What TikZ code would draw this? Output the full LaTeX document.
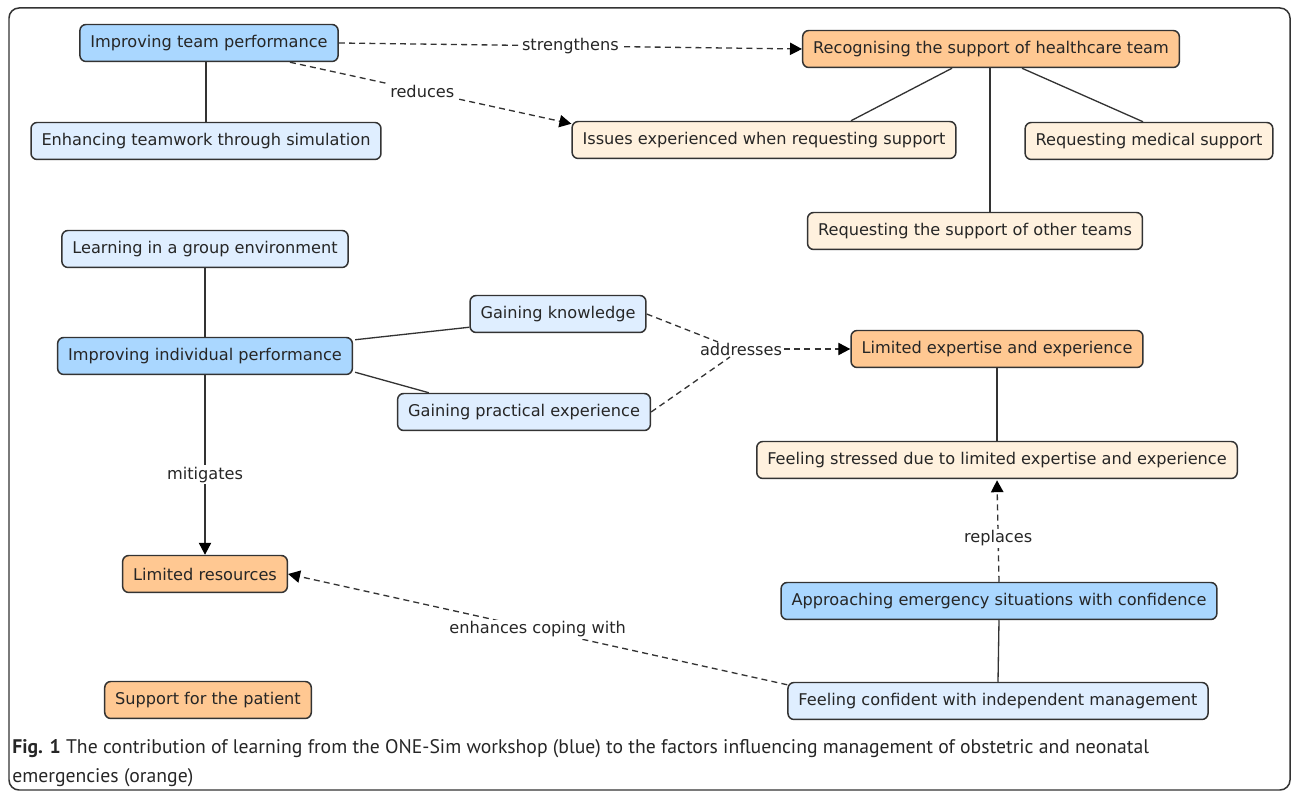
\documentclass[tikz,border=0pt]{standalone}
\usepackage{fontspec}
\setmainfont{DejaVu Sans}
\newfontfamily\capfont{PT Sans}
\usetikzlibrary{arrows.meta,calc}
\definecolor{dblue}{HTML}{AAD7FF}
\definecolor{lblue}{HTML}{DFEEFF}
\definecolor{dorange}{HTML}{FFC892}
\definecolor{lorange}{HTML}{FFF1DE}
\definecolor{edgec}{HTML}{333333}
\begin{document}
\begin{tikzpicture}[x=0.02cm,y=-0.02cm,
  box/.style={draw=edgec, line width=0.85pt, rounded corners=3.5pt,
    font=\fontsize{9.2}{11}\selectfont, text=black!85, inner xsep=0.21cm,
    minimum height=0.74cm},
  bluebox/.style={box, fill=dblue},
  lbluebox/.style={box, fill=lblue},
  orbox/.style={box, fill=dorange},
  lorbox/.style={box, fill=lorange},
  link/.style={draw=edgec, line width=0.75pt},
  dlink/.style={link, dash pattern=on 3.4pt off 2.4pt},
  tip/.style={-{Triangle[length=6.8pt,width=7pt,color=black]}},
  lab/.style={fill=white, inner sep=1pt, font=\fontsize{9.2}{11}\selectfont, text=black!85}
]
\useasboundingbox (0,0) rectangle (1292,793);
\draw[edgec, line width=0.85pt, rounded corners=0.2cm] (9,8) rectangle (1290,790);

\node[bluebox]  (tp)  at (209,43)  {Improving team performance};
\node[lbluebox] (et)  at (206,141) {Enhancing teamwork through simulation};
\node[orbox]    (rec) at (991,49)  {Recognising the support of healthcare team};
\node[lorbox]   (iss) at (764,140) {Issues experienced when requesting support};
\node[lorbox]   (med) at (1149,141) {Requesting medical support};
\node[lorbox]   (oth) at (975,231) {Requesting the support of other teams};
\node[lbluebox] (lg)  at (205,249) {Learning in a group environment};
\node[bluebox]  (ind) at (205,356) {Improving individual performance};
\node[lbluebox] (gk)  at (558,314) {Gaining knowledge};
\node[lbluebox] (gp)  at (524,412) {Gaining practical experience};
\node[orbox]    (le)  at (997,349) {Limited expertise and experience};
\node[lorbox]   (fs)  at (997,460) {Feeling stressed due to limited expertise and experience};
\node[bluebox]  (ap)  at (999,601) {Approaching emergency situations with confidence};
\node[lbluebox] (fc)  at (998,701) {Feeling confident with independent management};
\node[orbox]    (lr)  at (205,574) {Limited resources};
\node[orbox]    (sp)  at (208,700) {Support for the patient};

% team performance
\draw[link] (tp.south -| et.north) -- (et.north);
\draw[dlink, tip] (tp.east) -- node[lab]{strengthens} (rec.west);
\draw[dlink, tip] ($(tp.south)+(81,0)$) -- node[lab, pos=0.47]{reduces} ($(iss.north west)+(0,3)$);

% recognising
\coordinate (rs) at ($(rec.south)+(-1,0)$);
\draw[link] ($(rec.south)+(-39,0)$) -- ($(iss.north)+(87,0)$);
\draw[link] (rs) -- (rs |- oth.north);
\draw[link] ($(rec.south)+(31,0)$) -- ($(med.north)+(-6,0)$);

% individual
\draw[link] (lg.south) -- (ind.north);
\draw[link] ($(ind.north east)+(2,3)$) -- ($(gk.south west)+(0,-6)$);
\draw[link] ($(ind.south east)+(2,-3)$) -- ($(gp.north west)+(32,0)$);
\node[lab, fill=none] (addr) at (741,349) {addresses};
\draw[dlink] (gk.east) -- ($(addr)+(-23,-7)$);
\draw[dlink] (gp.east) -- ($(addr)+(-11,8)$);
\draw[dlink, tip] (addr.east) -- (le.west);
\draw[link, tip] (ind.south) -- node[lab, pos=0.555]{mitigates} (lr.north);

% right column
\draw[link] (le.south) -- (fs.north);
\draw[dlink, tip] (ap.north) -- node[lab, pos=0.43]{replaces} ($(fs.south)+(0,1)$);
\draw[link] (fc.north) -- (ap.south);
\draw[dlink, tip] ($(fc.north west)+(0,3)$) -- node[lab, pos=0.5]{enhances coping with} (lr.east);

% caption
\node[anchor=north west, align=left, inner sep=0pt, font=\capfont\fontsize{11.2}{16.6}\selectfont, text=black!85]
  (cap) at (12,739) {\textbf{Fig. 1} The contribution of learning from the ONE-Sim workshop (blue) to the factors influencing management of obstetric and neonatal\\ emergencies (orange)};
\end{tikzpicture}
\end{document}
